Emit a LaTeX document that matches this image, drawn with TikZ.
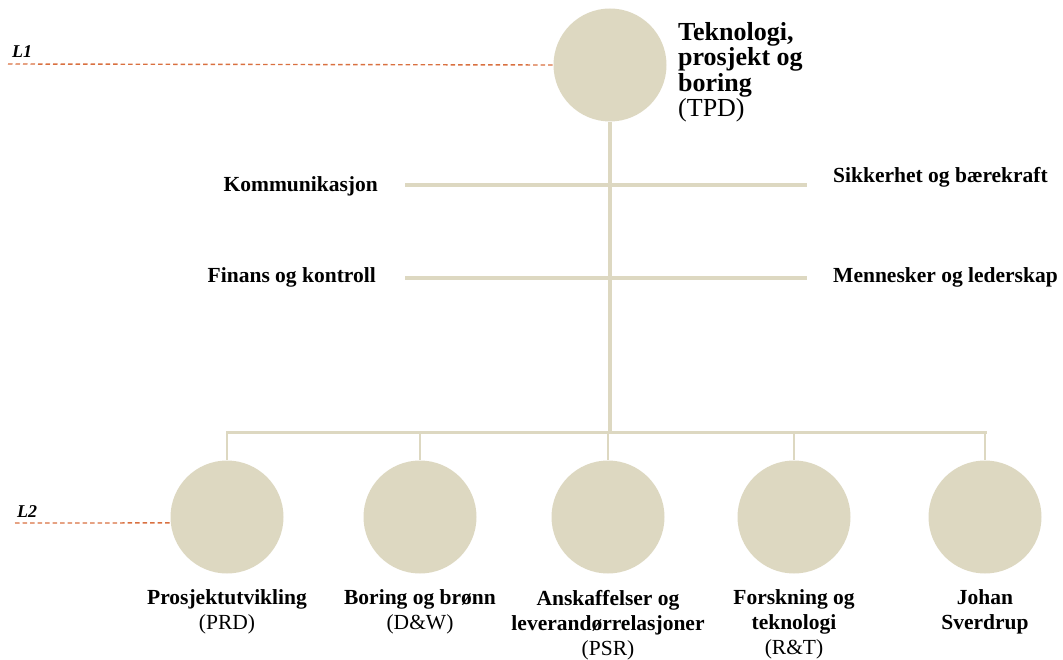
\documentclass[tikz,border=0pt]{standalone}
\usepackage{fontspec}
\setmainfont{Liberation Serif}
\usetikzlibrary{positioning}
\definecolor{sand}{RGB}{221,216,193}
\definecolor{rust}{RGB}{217,112,64}

\begin{document}
\begin{tikzpicture}[x=1pt, y=-1pt,
        orgunit/.style={circle, fill=sand, minimum size=113pt, inner sep=0pt},
        unitlbl/.style={font=\fontsize{21.5}{25}\selectfont\bfseries, inner sep=0pt, align=center},
        headlbl/.style={font=\fontsize{26}{25.5}\selectfont\bfseries, inner sep=0pt, align=left},
        stem/.style={draw=sand, line width=4pt},
        bus/.style={draw=sand, line width=3pt},
        drop/.style={draw=sand, line width=1.5pt},
        level/.style={draw=rust, line width=1.4pt, dash pattern=on 4.5pt off 3pt},
        lvltag/.style={font=\fontsize{18}{18}\selectfont\bfseries\itshape, inner sep=0pt}
    ]
        \useasboundingbox (0,0) rectangle (1063,660);

        % level 1
        \node[orgunit] (tpd) at (610,65) {};
        \node[headlbl, anchor=north west] (tpd-txt) at (678,22) {Teknologi,\\prosjekt og\\boring\\{\mdseries (TPD)}};

        % staff functions
        \node[unitlbl, anchor=base east] (kom) at (378,192) {Kommunikasjon};
        \node[unitlbl, anchor=base east] (fin) at (376,283) {Finans og kontroll};
        \node[unitlbl, anchor=base west] (sik) at (833,183) {Sikkerhet og bærekraft};
        \node[unitlbl, anchor=base west] (men) at (833,283) {Mennesker og lederskap};

        % level 2
        \node[orgunit] (prd) at (227,517) {};
        \node[orgunit] (dw) at (420,517) {};
        \node[orgunit] (psr) at (608,517) {};
        \node[orgunit] (rt) at (794,517) {};
        \node[orgunit] (js) at (985,517) {};

        \node[unitlbl, below=16pt of prd] (prd-txt) {Prosjektutvikling\\{\mdseries (PRD)}};
        \node[unitlbl, below=16pt of dw] (dw-txt) {Boring og brønn\\{\mdseries (D\&W)}};
        \node[unitlbl, below=16pt of psr] (psr-txt) {Anskaffelser og\\leverandørrelasjoner\\{\mdseries (PSR)}};
        \node[unitlbl, below=16pt of rt] (rt-txt) {Forskning og\\teknologi\\{\mdseries (R\&T)}};
        \node[unitlbl, below=16pt of js] (js-txt) {Johan\\Sverdrup};

        % connectors
        \coordinate (bus-l) at (226,432);
        \coordinate (bus-r) at (987,432);
        \coordinate (bus-c) at (610,432);
        \coordinate (kom-l) at (405,185);
        \coordinate (kom-r) at (807,185);
        \coordinate (fin-l) at (405,278);
        \coordinate (fin-r) at (807,278);

        \draw[stem] (tpd.south) -- (bus-c);
        \draw[stem] (kom-l) -- (kom-r);
        \draw[stem] (fin-l) -- (fin-r);
        \draw[bus] (bus-l) -- (bus-r);
        \foreach \u in {prd,dw,psr,rt,js}
            \draw[drop] (\u.north |- bus-c) -- (\u.north);

        % levels
        \coordinate (l1) at (8,64);
        \coordinate (l2) at (15,523);
        \draw[level] (l1) -- (tpd.west);
        \draw[level] (l2) -- (prd.186);
        \node[lvltag, anchor=base west] (l1-txt) at (12,58) {L1};
        \node[lvltag, anchor=base west] (l2-txt) at (17,517) {L2};
    \end{tikzpicture}
\end{document}
